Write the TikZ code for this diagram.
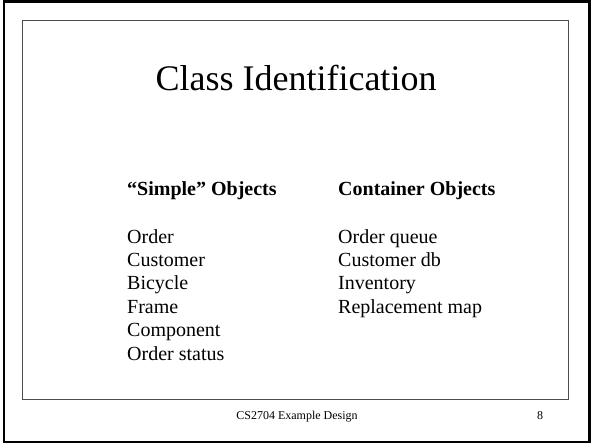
\documentclass[tikz,border=0pt]{standalone}
\usepackage{fontspec}
\setmainfont{Liberation Serif}
\usepackage{tikz}

\begin{document}
\begin{tikzpicture}[x=1pt,y=-1pt,
	slidetitle/.style={anchor=base,inner sep=0pt,font=\fontsize{36}{43}\selectfont},
	colhead/.style={anchor=base west,inner sep=0pt,font=\fontsize{20}{24}\selectfont\bfseries},
	item/.style={anchor=base west,inner sep=0pt,font=\fontsize{20}{24}\selectfont},
	footer/.style={anchor=base,inner sep=0pt,font=\fontsize{12}{14}\selectfont}]

	\useasboundingbox (0,0) rectangle (592,444);
	\draw[line width=2.5pt] (4,1.5) rectangle (589.5,442);
	\draw[gray!60!black, line width=0.9pt] (22,20) rectangle (568,399);

	\node[slidetitle] (title) at (296,91) {Class Identification};

	% simple objects
	\node[colhead] (simplehead) at (127,195) {``Simple'' Objects};
	\node[item] (order) at (127,243) {Order};
	\node[item] (customer) at (127,266.4) {Customer};
	\node[item] (bicycle) at (127,289.8) {Bicycle};
	\node[item] (frame) at (127,313.2) {Frame};
	\node[item] (component) at (127,336.6) {Component};
	\node[item] (orderstatus) at (127,360) {Order status};

	% container objects
	\node[colhead] (containerhead) at (338,195) {Container Objects};
	\node[item] (orderqueue) at (338,243) {Order queue};
	\node[item] (customerdb) at (338,266.4) {Customer db};
	\node[item] (inventory) at (338,289.8) {Inventory};
	\node[item] (replmap) at (338,313.2) {Replacement map};

	\node[footer] (course) at (297,419) {CS2704 Example Design};
	\node[footer] (pagenum) at (540,419) {8};
\end{tikzpicture}
\end{document}
